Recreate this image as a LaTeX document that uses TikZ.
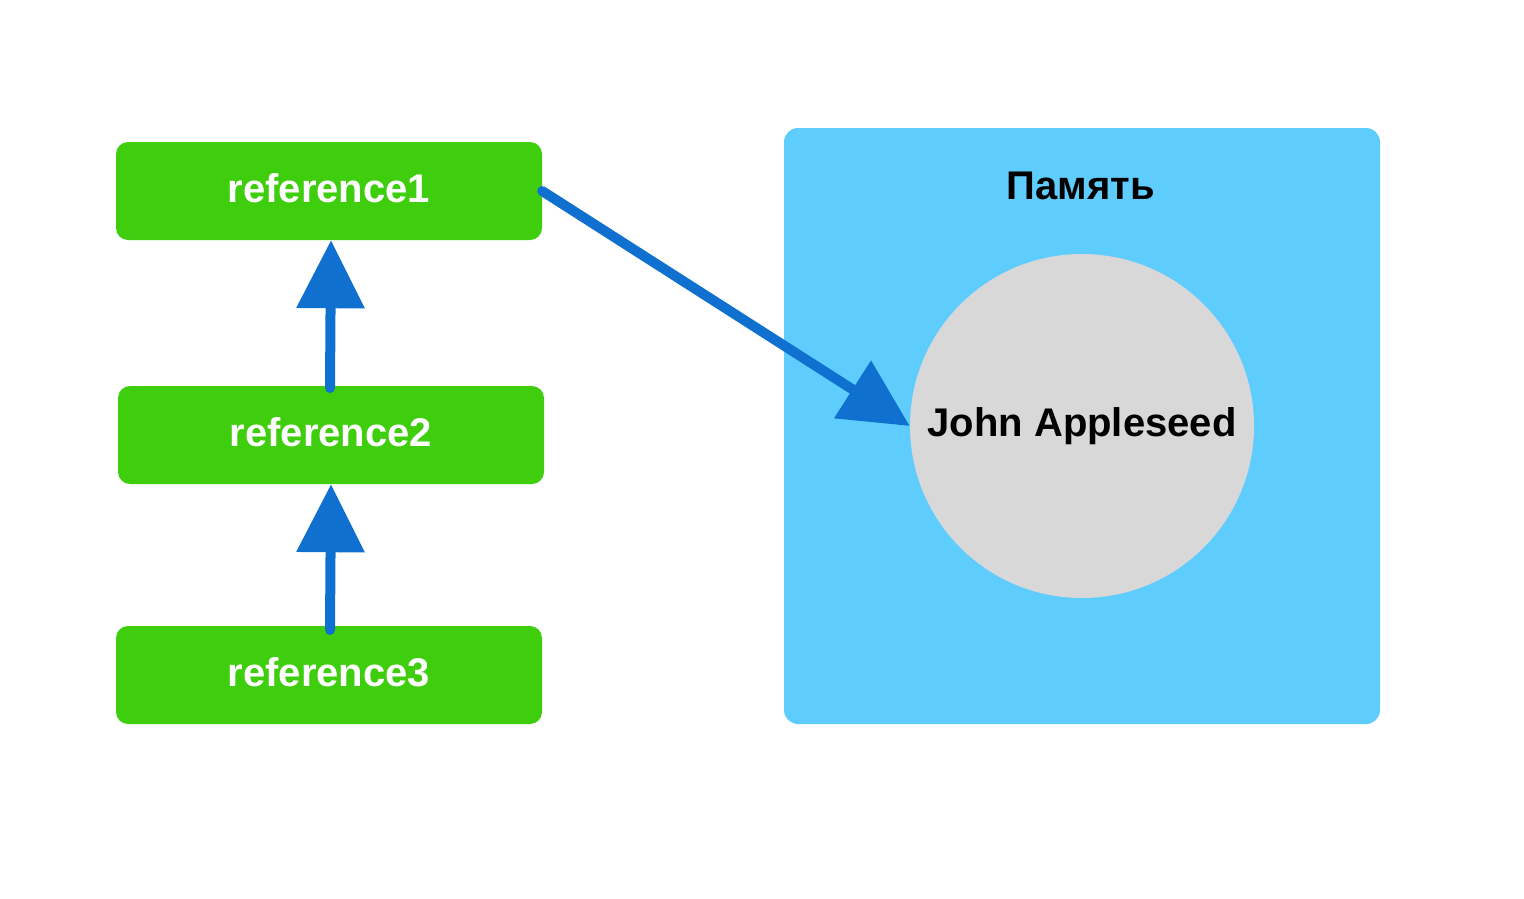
\documentclass[tikz,border=0pt]{standalone}
\usepackage{fontspec}
\setmainfont{Liberation Sans}
\usetikzlibrary{arrows.meta}
\definecolor{refgreen}{HTML}{3ECE0D}
\definecolor{membg}{HTML}{5ECDFE}
\definecolor{objgray}{HTML}{D8D8D8}
\definecolor{arrowblue}{HTML}{1070D0}

\begin{document}
\begin{tikzpicture}[x=1pt,y=-1pt,
  label font/.style={font=\fontsize{40}{46}\selectfont\bfseries},
  refbox/.style={fill=refgreen,rounded corners=12pt,minimum width=426pt,
    minimum height=98pt,inner sep=0pt,text=white,label font},
  link/.style={draw=arrowblue,line width=10pt,line cap=round,
    -{Triangle[length=68pt,width=66pt]}}]
\useasboundingbox (0,0) rectangle (1524,898);
% memory area
\node[fill=membg,rounded corners=14pt,minimum width=596pt,minimum height=596pt,
  inner sep=0pt] (memory) at (1082,426) {};
\node[label font] (memlabel) at (1081,186) {Память};
\node[circle,fill=objgray,minimum size=344pt,inner sep=0pt,label font] (person)
  at (1082,426) {John Appleseed};
% references
\node[refbox] (ref1) at (329,191) {};
\node[label font,text=white] (ref1text) at (329,188) {reference1};
\node[refbox] (ref2) at (331,435) {};
\node[label font,text=white] (ref2text) at (331,432) {reference2};
\node[refbox] (ref3) at (329,675) {};
\node[label font,text=white] (ref3text) at (329,672) {reference3};
\coordinate (from3) at (330,630);
\coordinate (from2) at (330,388);
\draw[link] (from3) -- (ref2.south);
\draw[link] (from2) -- (ref1.south -| ref2.south);
\draw[link] (ref1.east) -- (person.west);
\end{tikzpicture}
\end{document}
